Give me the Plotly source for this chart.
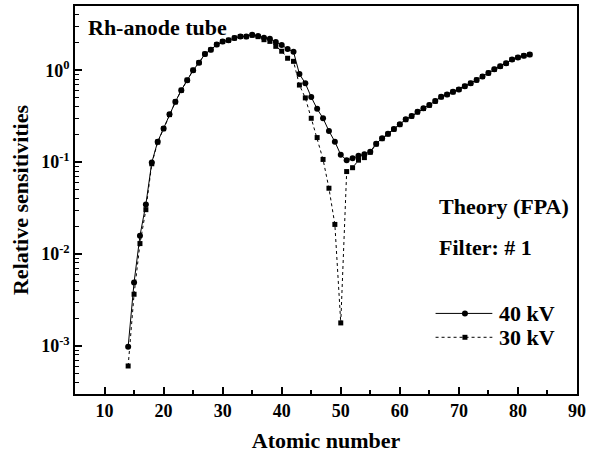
import plotly.graph_objects as go

# Atomic numbers of the analysed elements
z = list(range(14, 83))

# Relative sensitivities, 40 kV tube voltage
s40 = [
    9.8e-4, 4.9e-3, 0.0158, 0.0347, 0.099, 0.167, 0.233, 0.331, 0.454, 0.607,
    0.78, 1.0, 1.21, 1.50, 1.67, 1.90, 2.05, 2.12, 2.24, 2.33,
    2.33, 2.43, 2.36, 2.26, 2.20, 2.03, 1.88, 1.70, 1.59, 0.91,
    0.72, 0.51, 0.38, 0.30, 0.218, 0.167, 0.12, 0.105, 0.11, 0.117,
    0.122, 0.13, 0.159, 0.182, 0.204, 0.23, 0.258, 0.292, 0.318, 0.353,
    0.385, 0.418, 0.462, 0.514, 0.545, 0.582, 0.618, 0.671, 0.723, 0.785,
    0.855, 0.935, 1.025, 1.105, 1.19, 1.31, 1.38, 1.44, 1.48,
]

# Relative sensitivities, 30 kV tube voltage
s30 = [
    6.05e-4, 3.65e-3, 0.013, 0.0304, 0.096, 0.165, 0.231, 0.329, 0.452, 0.605,
    0.78, 1.0, 1.21, 1.50, 1.67, 1.90, 2.05, 2.12, 2.24, 2.33,
    2.32, 2.40, 2.32, 2.15, 2.06, 1.82, 1.61, 1.35, 1.25, 0.69,
    0.50, 0.30, 0.185, 0.107, 0.052, 0.021, 1.78e-3, 0.079, 0.087, 0.105,
    0.112, 0.128, 0.157, 0.180, 0.202, 0.228, 0.256, 0.290, 0.316, 0.351,
    0.383, 0.416, 0.460, 0.512, 0.543, 0.580, 0.616, 0.669, 0.721, 0.783,
    0.853, 0.933, 1.023, 1.103, 1.188, 1.308, 1.378, 1.438, 1.478,
]

x_ticks = [10, 20, 30, 40, 50, 60, 70, 80, 90]
y_ticks = [1e-3, 1e-2, 1e-1, 1]
y_tick_text = ["10<sup>-3</sup>", "10<sup>-2</sup>", "10<sup>-1</sup>", "10<sup>0</sup>"]
series_names = ["40 kV", "30 kV"]

FONT = "Liberation Serif"
W, H = 590, 459
ML, MR, MT, MB = 75, 11, 4, 65
PW, PH = W - ML - MR, H - MT - MB


def px_x(p):
    return (p - ML) / PW


def px_y(p):
    return (H - MB - p) / PH


fig = go.Figure()
fig.add_trace(go.Scatter(
    x=z, y=s40, name=series_names[0], mode="lines+markers",
    line=dict(color="black", width=1),
    marker=dict(symbol="circle", size=6, color="black"),
))
fig.add_trace(go.Scatter(
    x=z, y=s30, name=series_names[1], mode="lines+markers",
    line=dict(color="black", width=1, dash="dot"),
    marker=dict(symbol="square", size=5, color="black"),
))

axis_common = dict(
    showline=True, linecolor="black", linewidth=1.5, mirror=True,
    ticks="inside", ticklen=7, tickwidth=1.5, tickcolor="black",
    showgrid=False, zeroline=False,
    tickfont=dict(family=FONT, size=18, color="black"),
)

fig.update_xaxes(
    range=[5, 90], tickvals=x_ticks, ticktext=[f"<b>{v}</b>" for v in x_ticks],
    minor=dict(ticks="inside", ticklen=4, tickwidth=1.5, tickcolor="black", dtick=5),
    title=dict(text="<b>Atomic number</b>", font=dict(family=FONT, size=22, color="black"),
               standoff=12),
    **axis_common,
)
fig.update_yaxes(
    type="log", range=[-3.523, 0.699], tickvals=y_ticks,
    ticktext=[f"<b>{t}</b>" for t in y_tick_text],
    minor=dict(ticks="inside", ticklen=4, tickwidth=1.2, tickcolor="black", dtick="D1"),
    title=dict(text="<b>Relative sensitivities</b>", font=dict(family=FONT, size=22, color="black"),
               standoff=6),
    **axis_common,
)

label_font = dict(family=FONT, size=22, color="black")
fig.add_annotation(x=px_x(86), y=px_y(26), xref="paper", yref="paper", xanchor="left",
                   yanchor="middle", text="<b>Rh-anode tube</b>", showarrow=False, font=label_font)
fig.add_annotation(x=px_x(438), y=px_y(206), xref="paper", yref="paper", xanchor="left",
                   yanchor="middle", text="<b>Theory (FPA)</b>", showarrow=False, font=label_font)
fig.add_annotation(x=px_x(438), y=px_y(247), xref="paper", yref="paper", xanchor="left",
                   yanchor="middle", text="<b>Filter: # 1</b>", showarrow=False, font=label_font)

# Key: line sample with centred marker, followed by the series name
key_rows = [(313, "solid", "circle", 6), (337, "dot", "square", 5)]
for (ky, dash, sym, size), name in zip(key_rows, series_names):
    fig.add_shape(type="line", xref="paper", yref="paper",
                  x0=px_x(437), x1=px_x(494), y0=px_y(ky), y1=px_y(ky),
                  line=dict(color="black", width=1, dash=dash))
    half = size / 2
    fig.add_shape(type="circle" if sym == "circle" else "rect", xref="paper", yref="paper",
                  x0=px_x(466.5 - half), x1=px_x(466.5 + half),
                  y0=px_y(ky - half), y1=px_y(ky + half),
                  fillcolor="black", line=dict(color="black", width=0))
    fig.add_annotation(x=px_x(499), y=px_y(ky), xref="paper", yref="paper", xanchor="left",
                       yanchor="middle", text=f"<b>{name}</b>", showarrow=False, font=label_font)

fig.update_layout(
    width=W, height=H,
    margin=dict(l=ML, r=MR, t=MT, b=MB),
    paper_bgcolor="white", plot_bgcolor="white",
    font=dict(family=FONT, color="black"),
    showlegend=False,
)

fig.write_html("out.html")
